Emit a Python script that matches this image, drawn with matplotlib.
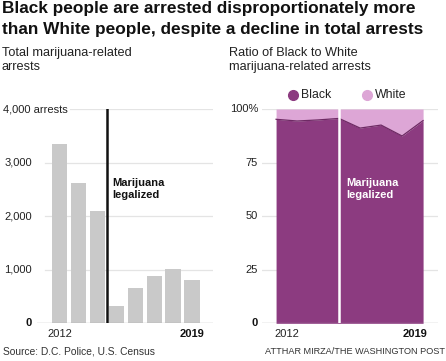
import matplotlib
matplotlib.use("Agg")
import matplotlib.pyplot as plt
from matplotlib.lines import Line2D

# data
years = [2012, 2013, 2014, 2015, 2016, 2017, 2018, 2019]
arrests = [3340, 2610, 2100, 320, 650, 880, 1010, 810]
black_pct = [95.2, 94.4, 94.9, 95.6, 91.1, 92.5, 87.4, 94.6]
arrest_ticks = [0, 1000, 2000, 3000, 4000]
arrest_labels = ["0", "1,000", "2,000", "3,000", "4,000 arrests"]
pct_ticks = [0, 25, 50, 75, 100]
pct_labels = ["0", "25", "50", "75", "100%"]

W, H = 446, 361
FONT = "Liberation Sans"
GRAY_BAR = "#c9c9c9"
GRID = "#e4e4e4"
BASE = "#9a9a9a"
PURPLE = "#8c3b80"
PINK = "#dda6d6"
TXT = "#222222"

plt.rcParams["font.family"] = [FONT, "DejaVu Sans"]

fig = plt.figure(figsize=(W / 100, H / 100), dpi=100)


def fx(px):
    return px / W


def fy(py):
    return 1 - py / H


# titles
fig.text(fx(2), fy(1.5), "Black people are arrested disproportionately more",
         fontsize=12.4, weight="bold", va="top", color="#111111")
fig.text(fx(2), fy(22), "than White people, despite a decline in total arrests",
         fontsize=12.4, weight="bold", va="top", color="#111111")
fig.text(fx(2), fy(47), "Total marijuana-related\narrests", fontsize=9.2,
         va="top", color=TXT, linespacing=1.2)
fig.text(fx(229), fy(47), "Ratio of Black to White\nmarijuana-related arrests",
         fontsize=9.2, va="top", color=TXT, linespacing=1.2)
fig.text(fx(3), fy(352), "Source: D.C. Police, U.S. Census", fontsize=7.4,
         va="center", color="#333333")
fig.text(fx(445), fy(352), "ATTHAR MIRZA/THE WASHINGTON POST", fontsize=6.6,
         va="center", ha="right", color="#333333")

bottom = fy(323.3)
height = (323.3 - 109) / H

# ---- left: total arrests
ax1 = fig.add_axes([fx(37), bottom, fx(176), height])
ax1.set_xlim(2010.81, 2020.11)
ax1.set_ylim(0, 4000)
ax1.axis("off")
for t in arrest_ticks[1:]:
    start = (70 - 37) / 176 if t == 4000 else (45 - 37) / 176
    ax1.axhline(t, xmin=start, xmax=1, color=GRID, lw=0.9, zorder=0)
ax1.axhline(0, color=BASE, lw=0.9, zorder=3)
ax1.bar(years, arrests, width=0.8, color=GRAY_BAR, zorder=2)
ax1.plot([2014.5, 2014.5], [0, 4000], color="#111111", lw=1.8, zorder=4)
ax1.text(2014.8, 2720, "Marijuana\nlegalized", fontsize=8, weight="bold",
         va="top", ha="left", color="#111111", linespacing=1.3)
for t, lab in zip(arrest_ticks, arrest_labels):
    if t == 4000:
        fig.text(fx(3), ax1.transData.transform((0, t))[1] / (H), lab,
                 fontsize=8, va="center", ha="left", color=TXT)
    else:
        fig.text(fx(32), ax1.transData.transform((0, t))[1] / H, lab,
                 fontsize=8, va="center", ha="right", color="#111111" if t == 0 else TXT,
                 weight="bold" if t == 0 else "normal")
ax1.text(years[0], -110, str(years[0]), fontsize=8, ha="center", va="top", color=TXT)
ax1.text(years[-1], -110, str(years[-1]), fontsize=8, ha="center", va="top",
         weight="bold", color="#111111")

# ---- right: share of arrests
ax2 = fig.add_axes([fx(262), bottom, fx(176), height])
ax2.set_xlim(2011.33, 2019.71)
ax2.set_ylim(0, 100)
ax2.axis("off")
for t in pct_ticks[1:]:
    ax2.axhline(t, color=GRID, lw=0.9, zorder=0)
ax2.fill_between(years, black_pct, 100, color=PINK, lw=0, zorder=1)
ax2.fill_between(years, 0, black_pct, color=PURPLE, lw=0, zorder=2)
ax2.plot(years, black_pct, color="#6e2a64", lw=0.9, zorder=3)
ax2.axhline(0, color=BASE, lw=0.9, zorder=3)
ax2.plot([2015, 2015], [0, 100], color="white", lw=1.8, zorder=4)
ax2.text(2015.33, 68, "Marijuana\nlegalized", fontsize=8, weight="bold",
         va="top", ha="left", color="white", linespacing=1.3)
for t, lab in zip(pct_ticks, pct_labels):
    fig.text(fx(258), ax2.transData.transform((0, t))[1] / H, lab,
             fontsize=8, va="center", ha="right", color="#111111" if t == 0 else TXT,
             weight="bold" if t == 0 else "normal")
ax2.text(years[0] - 0.1, -2.75, str(years[0]), fontsize=8, ha="left", va="top", color=TXT)
ax2.text(years[-1] + 0.2, -2.75, str(years[-1]), fontsize=8, ha="right", va="top",
         weight="bold", color="#111111")

# legend
for cx, tx, col, lab in [(293, 301, PURPLE, "Black"), (367, 375, PINK, "White")]:
    fig.add_artist(Line2D([fx(cx)], [fy(94.5)], marker="o", markersize=7,
                          color=col, linestyle="none"))
    fig.text(fx(tx), fy(94.5), lab, fontsize=8.8, va="center", ha="left", color=TXT)

fig.savefig("out.png", dpi=100)
